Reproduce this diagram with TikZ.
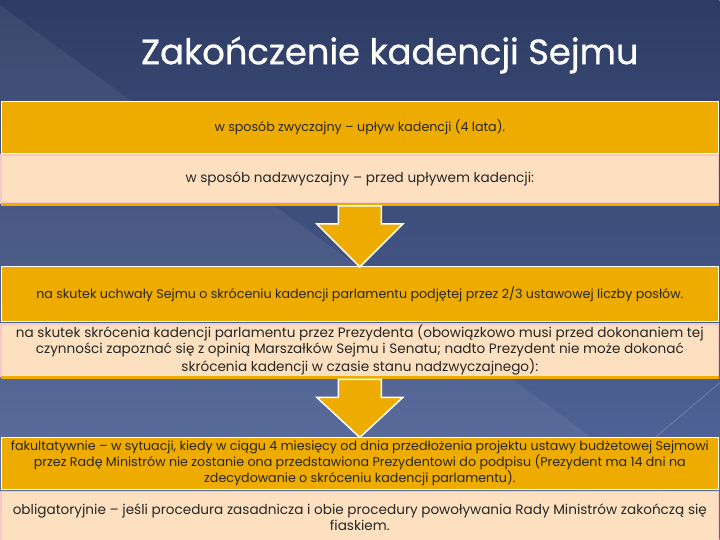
\documentclass[tikz,border=0pt]{standalone}
\usepackage{fontspec}
\setmainfont{Poppins}
\newfontfamily\titlefont[FakeBold=0.8]{Poppins}
\usepackage{tikz}
\usetikzlibrary{positioning, calc}
\definecolor{navytop}{HTML}{2E3D64}
\definecolor{navybot}{HTML}{556AA0}
\definecolor{gold}{HTML}{EEAC00}
\definecolor{peach}{HTML}{FDE0BF}
\definecolor{pinkline}{HTML}{F5C9C9}
\definecolor{ink}{HTML}{262626}

\begin{document}
\begin{tikzpicture}[
      x=0.75pt, y=0.75pt,
      node distance = 1.5pt,
      goldbox/.style  = {fill=gold, draw=white, line width=0.6pt, outer sep=0pt,
                         minimum width=538.5pt, inner xsep=1pt, inner ysep=1pt,
                         align=center, text=ink, font=\fontsize{9.5}{12}\selectfont},
      peachbox/.style = {fill=peach, draw=pinkline, line width=1pt, outer sep=0pt,
                         minimum width=538.5pt, inner xsep=1pt, inner ysep=1pt,
                         align=center, text=ink, font=\fontsize{10.2}{12}\selectfont},
      blockarr/.style = {fill=gold, draw=white, line width=1.1pt, line join=miter},
    ]

    % background
    \shade[top color=navytop, bottom color=navybot] (0,0) rectangle (720,-540);
    \fill[white, opacity=0.06] (0,-5) -- (720,-531) -- (0,-540) -- cycle;
    \draw[white, opacity=0.25, line width=0.5pt] (720,-383) -- (615,-472);
    \useasboundingbox (0,0) rectangle (720,-540);

    \node[text=white, font=\titlefont\fontsize{26.5}{30}\selectfont] (title) at (390,-55)
      {Zakończenie kadencji Sejmu};

    \node[goldbox, minimum height=39pt, anchor=north] (b1) at (360,-101)
      {w sposób zwyczajny – upływ kadencji (4 lata).};
    \node[peachbox, minimum height=36pt, below=of b1] (b2)
      {w sposób nadzwyczajny – przed upływem kadencji:};
    \node[goldbox, minimum height=41.25pt, below=48pt of b2] (b3)
      {na skutek uchwały Sejmu o skróceniu kadencji parlamentu podjętej przez 2/3 ustawowej liczby posłów.};
    \node[peachbox, minimum height=36pt, below=of b3] (b4)
      {na skutek skrócenia kadencji parlamentu przez Prezydenta (obowiązkowo musi przed dokonaniem tej\\
       czynności zapoznać się z opinią Marszałków Sejmu i Senatu; nadto Prezydent nie może dokonać\\
       skrócenia kadencji w czasie stanu nadzwyczajnego):};
    \node[goldbox, minimum height=39pt, below=45.75pt of b4] (b5)
      {fakultatywnie – w sytuacji, kiedy w ciągu 4 miesięcy od dnia przedłożenia projektu ustawy budżetowej Sejmowi\\
       przez Radę Ministrów nie zostanie ona przedstawiona Prezydentowi do podpisu (Prezydent ma 14 dni na\\
       zdecydowanie o skróceniu kadencji parlamentu).};
    \node[peachbox, minimum height=38.25pt, below=of b5] (b6)
      {obligatoryjnie – jeśli procedura zasadnicza i obie procedury powoływania Rady Ministrów zakończą się\\
       fiaskiem.};

    % gold strips under the peach boxes
    \fill[gold] (b2.south west) rectangle ($(b2.south east)+(0,-3)$);
    \fill[gold] (b4.south west) rectangle ($(b4.south east)+(0,-3)$);
    \coordinate (s1) at ($(b2.south)+(0,-3)$);
    \coordinate (s2) at ($(b4.south)+(0,-3)$);

    % arrows between the groups
    \draw[blockarr] (b3.north) -- ($(b3.north)+(-43,43)$) -- ($(b3.north)+(-21.5,43)$)
      -- ($(b3.north |- s1)+(-21.5,0)$) -- ($(b3.north |- s1)+(21.5,0)$)
      -- ($(b3.north)+(21.5,43)$) -- ($(b3.north)+(43,43)$) -- cycle;
    \draw[blockarr] (b5.north) -- ($(b5.north)+(-43,40)$) -- ($(b5.north)+(-21.5,40)$)
      -- ($(b5.north |- s2)+(-21.5,0)$) -- ($(b5.north |- s2)+(21.5,0)$)
      -- ($(b5.north)+(21.5,40)$) -- ($(b5.north)+(43,40)$) -- cycle;

  \end{tikzpicture}
\end{document}
